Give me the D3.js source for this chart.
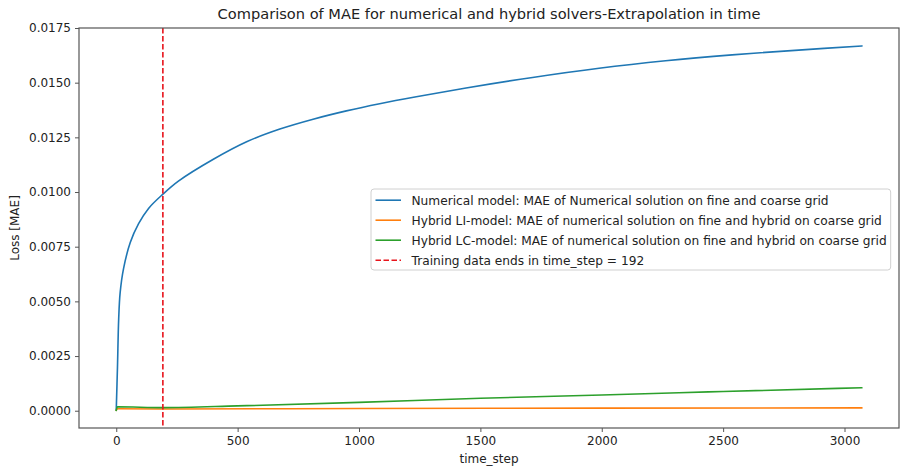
<!DOCTYPE html>
<html>
<head>
<meta charset="utf-8">
<script src="https://cdn.jsdelivr.net/npm/d3@7"></script>
<style>
  html, body { margin: 0; padding: 0; background: #fff; }
  svg { display: block; font-family: "DejaVu Sans", sans-serif; }
</style>
</head>
<body>
<svg id="chart" width="904" height="468"></svg>
<script>
// MAE over time steps for the numerical solver and the two hybrid models
const numericalSteps = [0, 5, 10, 16, 30, 58, 92, 133, 192, 256, 400, 537, 674, 811, 948, 1085, 1236, 1441, 1715, 1989, 2263, 2537, 2811, 3071];
const numericalMAE   = [0.00005, 0.0020, 0.0042, 0.0054, 0.0065, 0.0077, 0.00855, 0.00925, 0.0099, 0.0105, 0.0115, 0.0123, 0.01288, 0.01333, 0.01371, 0.01404, 0.01436, 0.01476, 0.01524, 0.01566, 0.01600, 0.01627, 0.01649, 0.01668];

const hybridLISteps = [0, 5, 192, 1000, 2000, 3071];
const hybridLIMAE   = [0.00002, 0.00009, 0.00008, 0.00010, 0.00012, 0.00013];

const hybridLCSteps = [0, 5, 192, 500, 1000, 1500, 2000, 2318, 2500, 3071];
const hybridLCMAE   = [0.00002, 0.00018, 0.00014, 0.00022, 0.00038, 0.00057, 0.00072, 0.00082, 0.00088, 0.00105];

const trainingEnd = 192;

const xTicks = [0, 500, 1000, 1500, 2000, 2500, 3000];
const yTicks = [0, 0.0025, 0.005, 0.0075, 0.01, 0.0125, 0.015, 0.0175];

const seriesNames = [
  "Numerical model: MAE of Numerical solution on fine and coarse grid",
  "Hybrid LI-model: MAE of numerical solution on fine and hybrid on coarse grid",
  "Hybrid LC-model: MAE of numerical solution on fine and hybrid on coarse grid",
  "Training data ends in time_step = 192"
];
const seriesColors = ["#1f77b4", "#ff7f0e", "#2ca02c", "#e8141c"];

const series = [
  { steps: numericalSteps, values: numericalMAE, color: seriesColors[0], curve: d3.curveCatmullRom.alpha(0.5) },
  { steps: hybridLISteps, values: hybridLIMAE, color: seriesColors[1], curve: d3.curveMonotoneX },
  { steps: hybridLCSteps, values: hybridLCMAE, color: seriesColors[2], curve: d3.curveMonotoneX }
];

const svg = d3.select("#chart");
const plot = { left: 79, top: 28, right: 899, bottom: 428 };

const x = d3.scaleLinear().domain([-153.5, 3224.5]).range([plot.left, plot.right]);
const y = d3.scaleLinear().domain([-0.00079, 0.0175]).range([plot.bottom, plot.top]);

const axisColor = "#555";
const textColor = "#222";

// plotted lines, clipped to the axes area
svg.append("clipPath").attr("id", "plotClip")
  .append("rect")
  .attr("x", plot.left).attr("y", plot.top)
  .attr("width", plot.right - plot.left).attr("height", plot.bottom - plot.top);

const g = svg.append("g").attr("clip-path", "url(#plotClip)");

series.forEach(s => {
  const line = d3.line().x(d => x(d[0])).y(d => y(d[1])).curve(s.curve);
  g.append("path")
    .datum(s.steps.map((t, i) => [t, s.values[i]]))
    .attr("d", line)
    .attr("fill", "none")
    .attr("stroke", s.color)
    .attr("stroke-width", 1.6)
    .attr("stroke-linejoin", "round")
    .attr("stroke-linecap", "square");
});

g.append("line")
  .attr("x1", x(trainingEnd)).attr("x2", x(trainingEnd))
  .attr("y1", plot.top).attr("y2", plot.bottom)
  .attr("stroke", seriesColors[3])
  .attr("stroke-width", 1.6)
  .attr("stroke-dasharray", "5.5,2.5");

// axes
const xAxis = d3.axisBottom(x).tickValues(xTicks).tickFormat(d3.format("d")).tickSize(4).tickPadding(4);
const yAxis = d3.axisLeft(y).tickValues(yTicks).tickFormat(d3.format(".4f")).tickSize(4).tickPadding(4);

const gx = svg.append("g").attr("transform", `translate(0,${plot.bottom})`).call(xAxis);
const gy = svg.append("g").attr("transform", `translate(${plot.left},0)`).call(yAxis);
[gx, gy].forEach(a => {
  a.select(".domain").remove();
  a.selectAll(".tick line").attr("stroke", axisColor).attr("stroke-width", 1);
  a.selectAll(".tick text").attr("fill", textColor).attr("font-size", 12)
    .attr("font-family", "DejaVu Sans, sans-serif");
});

// frame
svg.append("rect")
  .attr("x", plot.left).attr("y", plot.top)
  .attr("width", plot.right - plot.left).attr("height", plot.bottom - plot.top)
  .attr("fill", "none").attr("stroke", axisColor).attr("stroke-width", 1.2);

// titles
svg.append("text")
  .attr("x", (plot.left + plot.right) / 2).attr("y", 19)
  .attr("text-anchor", "middle").attr("font-size", 14.6).attr("fill", textColor)
  .text("Comparison of MAE for numerical and hybrid solvers-Extrapolation in time");

svg.append("text")
  .attr("x", (plot.left + plot.right) / 2).attr("y", 463)
  .attr("text-anchor", "middle").attr("font-size", 12).attr("fill", textColor)
  .text("time_step");

svg.append("text")
  .attr("transform", `translate(19,${(plot.top + plot.bottom) / 2}) rotate(-90)`)
  .attr("text-anchor", "middle").attr("font-size", 12).attr("fill", textColor)
  .text("Loss [MAE]");

// legend
const legend = svg.append("g").attr("transform", "translate(371,189)");
const legendBox = legend.append("rect")
  .attr("x", 0).attr("y", 0).attr("width", 520).attr("height", 81)
  .attr("rx", 3).attr("fill", "#fff").attr("fill-opacity", 0.85)
  .attr("stroke", "#d0d0d0").attr("stroke-width", 1);

let maxText = 0;
seriesNames.forEach((name, i) => {
  const yy = 11.2 + i * 20;
  legend.append("line")
    .attr("x1", 4.5).attr("x2", 30).attr("y1", yy).attr("y2", yy)
    .attr("stroke", seriesColors[i]).attr("stroke-width", 1.6)
    .attr("stroke-dasharray", i === 3 ? "5.5,2.5" : null);
  const t = legend.append("text")
    .attr("x", 40.5).attr("y", yy + 4.4)
    .attr("font-size", 12.2).attr("fill", textColor)
    .text(name);
  maxText = Math.max(maxText, t.node().getComputedTextLength());
});
legendBox.attr("width", 40.5 + maxText + 4);
</script>
</body>
</html>
